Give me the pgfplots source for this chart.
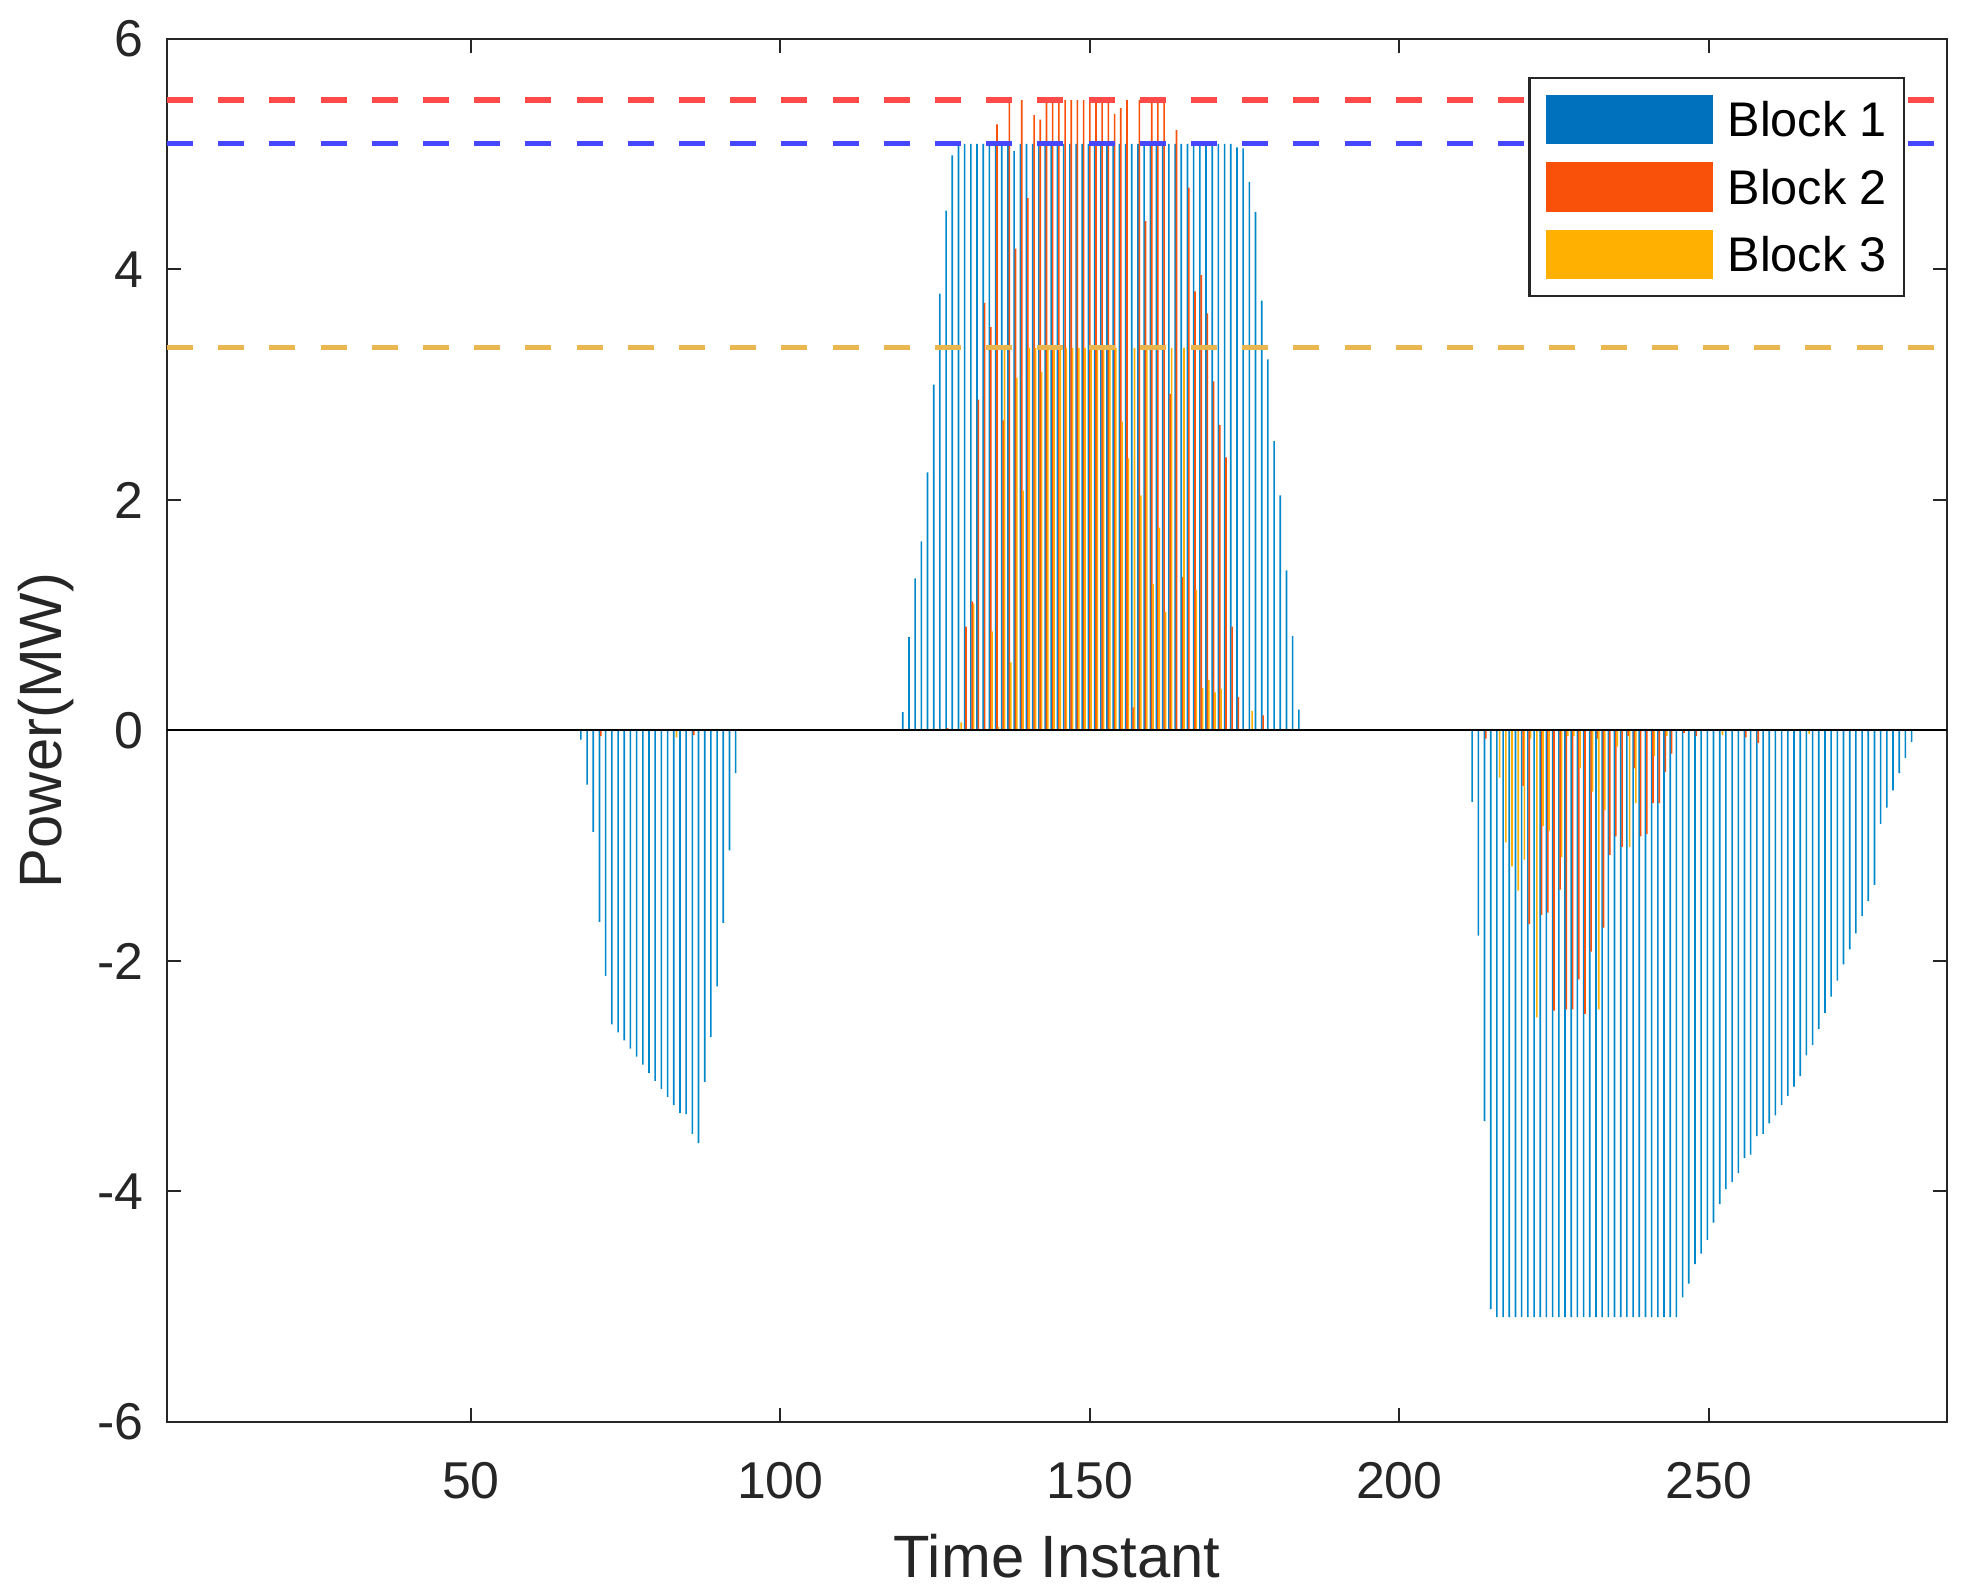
\documentclass[border=0pt]{standalone}
\usepackage{pgfplots}
\pgfplotsset{compat=1.18}
\usepackage{fontspec}
\setmainfont{Liberation Sans}
\definecolor{cB}{HTML}{0072BD}
\definecolor{cR}{HTML}{F9500A}
\definecolor{cY}{HTML}{FFB000}
\definecolor{bB}{HTML}{0088CC}
\definecolor{axc}{HTML}{262626}
\definecolor{dR}{HTML}{FF4A4A}
\definecolor{dB}{HTML}{4747FF}
\definecolor{dY}{HTML}{E9B64F}
\begin{document}
\begin{tikzpicture}
\begin{axis}[
 width=445bp, height=345.75bp, scale only axis,
 xmin=0.9, xmax=288.5, ymin=-6, ymax=6,
 xtick={50,100,150,200,250}, xticklabels={50,100,150,200,250},
 ytick={-6,-4,-2,0,2,4,6}, yticklabels={-6,-4,-2,0,2,4,6},
 tick align=inside, major tick length=3.5bp,
 tick style={axc, line width=0.5bp},
 axis line style={axc, line width=0.5bp},
 ticklabel style={font=\fontsize{13}{15}\selectfont, text=axc, inner sep=0pt},
 xticklabel style={anchor=center, yshift=-14.75bp},
 yticklabel style={anchor=east, xshift=-5.75bp},
 xlabel={Time Instant}, ylabel={Power(MW)},
 label style={font=\fontsize{15}{17}\selectfont, text=axc},
 xlabel style={at={(axis description cs:0.5,-0.0969)}, anchor=center},
 ylabel style={at={(axis description cs:-0.0679,0.5)}, anchor=center},
 legend cell align=left,
 legend style={at={(axis description cs:1,1)}, anchor=north east, xshift=-10.5bp, yshift=-9.4bp,
   draw=axc, line width=0.6bp, fill=white, font=\fontsize{12.2}{13}\selectfont,
   inner xsep=4.2bp, inner ysep=4.25bp, row sep=4.6bp,
   /tikz/every odd column/.append style={column sep=3.7bp},
   nodes={inner xsep=0pt, inner ysep=0pt, text height=8.6bp, text depth=0pt}},
]
% Block 1
\addplot[ybar, bar width=0.26, bar shift=-0.222, fill=bB, draw=none, forget plot] coordinates {
(68,-0.08)(69,-0.47)(70,-0.88)(71,-1.66)(72,-2.13)(73,-2.55)(74,-2.62)(75,-2.69)(76,-2.76)(77,-2.83)
(78,-2.90)(79,-2.97)(80,-3.04)(81,-3.11)(82,-3.18)(83,-3.25)(84,-3.32)(85,-3.33)(86,-3.50)(87,-3.58)
(88,-3.05)(89,-2.66)(90,-2.22)(91,-1.67)(92,-1.04)(93,-0.37)
(120,0.16)(121,0.81)(122,1.32)(123,1.64)(124,2.24)(125,3.00)(126,3.79)(127,4.51)(128,4.99)
(129,5.09)(130,5.09)(131,5.09)(132,5.09)(133,5.09)(134,5.09)(135,5.09)(136,5.09)(137,5.09)(138,5.03)
(139,5.09)(140,5.09)(141,5.09)(142,5.09)(143,5.09)(144,5.09)(145,5.09)(146,5.09)(147,5.09)(148,5.09)
(149,5.09)(150,5.09)(151,5.09)(152,5.09)(153,5.09)(154,5.09)(155,5.09)(156,5.09)(157,5.09)(158,5.09)
(159,5.09)(160,5.09)(161,5.09)(162,5.09)(163,5.09)(164,5.09)(165,5.09)(166,5.09)(167,5.09)(168,5.09)
(169,5.09)(170,5.09)(171,5.09)(172,5.09)(173,5.09)(174,5.06)(175,5.05)(176,4.76)(177,4.50)(178,3.73)
(179,3.22)(180,2.51)(181,2.04)(182,1.39)(183,0.82)(184,0.18)
(212,-0.62)(213,-1.78)(214,-3.39)(215,-5.02)
(216,-5.09)(217,-5.09)(218,-5.09)(219,-5.09)(220,-5.09)(221,-5.09)(222,-5.09)(223,-5.09)(224,-5.09)(225,-5.09)
(226,-5.09)(227,-5.09)(228,-5.09)(229,-5.09)(230,-5.09)(231,-5.09)(232,-5.09)(233,-5.09)(234,-5.09)(235,-5.09)
(236,-5.09)(237,-5.09)(238,-5.09)(239,-5.09)(240,-5.09)(241,-5.09)(242,-5.09)(243,-5.09)(244,-5.09)(245,-5.09)
(246,-4.92)(247,-4.80)(248,-4.63)(249,-4.54)(250,-4.42)(251,-4.27)(252,-4.11)(253,-3.98)(254,-3.92)(255,-3.84)
(256,-3.71)(257,-3.68)(258,-3.52)(259,-3.50)(260,-3.41)(261,-3.34)(262,-3.25)(263,-3.17)(264,-3.09)(265,-3.00)
(266,-2.82)(267,-2.73)(268,-2.59)(269,-2.45)(270,-2.31)(271,-2.17)(272,-2.03)(273,-1.90)(274,-1.76)(275,-1.61)
(276,-1.48)(277,-1.34)(278,-0.81)(279,-0.67)(280,-0.52)(281,-0.37)(282,-0.24)(283,-0.10)
};
% Block 2
\addplot[ybar, bar width=0.26, bar shift=0, fill=cR, draw=none, forget plot] coordinates {
(71,-0.05)(86,-0.04)
(127,0.02)(130,0.90)(131,1.12)(132,2.87)(133,3.71)(134,3.50)(135,5.26)(136,2.69)(137,5.47)(138,4.18)
(139,5.47)(140,4.62)(141,5.34)(142,5.30)(143,5.47)(144,5.47)(145,5.47)(146,5.47)(147,5.47)(148,5.47)
(149,5.47)(150,5.47)(151,5.47)(152,5.47)(153,5.47)(154,5.35)(155,5.40)(156,5.47)(157,0.20)(158,5.47)
(159,4.42)(160,5.47)(161,5.47)(162,5.47)(163,2.92)(164,5.21)(165,1.33)(166,4.71)(167,3.81)(168,3.95)
(169,3.62)(170,3.03)(171,2.65)(172,2.37)(173,0.90)(174,0.29)(178,0.13)
(214,-0.07)(220,-0.48)(221,-1.68)(223,-1.60)(224,-1.58)(225,-2.43)(226,-1.38)(227,-2.42)(228,-2.42)
(229,-2.16)(230,-2.46)(231,-1.92)(232,-0.07)(233,-1.71)(234,-1.08)(235,-0.92)(236,-1.01)(237,-0.05)
(238,-0.33)(239,-0.92)(240,-0.90)(241,-0.63)(242,-0.63)(243,-0.36)(244,-0.20)(246,-0.02)(248,-0.05)
(256,-0.06)(258,-0.11)
};
% Block 3
\addplot[ybar, bar width=0.26, bar shift=0.222, fill=cY, draw=none, forget plot] coordinates {
(83,-0.06)
(129,0.07)(131,1.10)(134,0.86)(135,0.03)(136,3.32)(137,0.59)(138,3.06)(139,2.08)(140,3.32)(141,3.32)
(142,3.11)(143,3.32)(144,3.32)(145,3.32)(146,3.32)(147,3.32)(148,3.32)(149,3.32)(150,3.32)(151,3.32)
(152,3.32)(153,3.32)(154,3.32)(155,2.68)(156,2.36)(157,3.32)(158,2.04)(159,3.32)(160,1.27)(161,1.76)
(162,1.03)(163,3.32)(165,3.32)(167,1.22)(168,0.37)(169,0.44)(170,0.33)(171,0.36)(176,0.17)
(216,-0.41)(217,-0.97)(218,-1.18)(219,-1.39)(220,-1.12)(221,-0.07)(222,-2.49)(223,-0.83)(224,-0.87)
(226,-1.10)(227,-0.05)(228,-0.05)(229,-0.33)(231,-0.53)(232,-2.42)(233,-0.69)(235,-0.14)(237,-1.01)
(238,-0.63)(241,-0.22)(243,-0.05)(252,-0.04)(266,-0.03)
};
% baseline
\addplot[black, line width=0.5bp, forget plot] coordinates {(0.9,0) (288.5,0)};
% limits
\addplot[dR, line width=1.3bp, dash pattern=on 6.5bp off 6.3bp, forget plot] coordinates {(0.9,5.47) (288.5,5.47)};
\addplot[dB, line width=1.3bp, dash pattern=on 6.5bp off 6.3bp, forget plot] coordinates {(0.9,5.09) (288.5,5.09)};
\addplot[dY, line width=1.3bp, dash pattern=on 6.5bp off 6.3bp, forget plot] coordinates {(0.9,3.32) (288.5,3.32)};
\addlegendimage{legend image code/.code={\fill[cB] (0bp,-5.85bp) rectangle (41bp,5.85bp);}}
\addlegendentry{Block 1}
\addlegendimage{legend image code/.code={\fill[cR] (0bp,-5.85bp) rectangle (41bp,5.85bp);}}
\addlegendentry{Block 2}
\addlegendimage{legend image code/.code={\fill[cY] (0bp,-5.85bp) rectangle (41bp,5.85bp);}}
\addlegendentry{Block 3}
\end{axis}
\pgfresetboundingbox
\path ([xshift=-41.75bp,yshift=-42.5bp]current axis.south west) rectangle ([xshift=5.25bp,yshift=9.75bp]current axis.north east);
\end{tikzpicture}
\end{document}
